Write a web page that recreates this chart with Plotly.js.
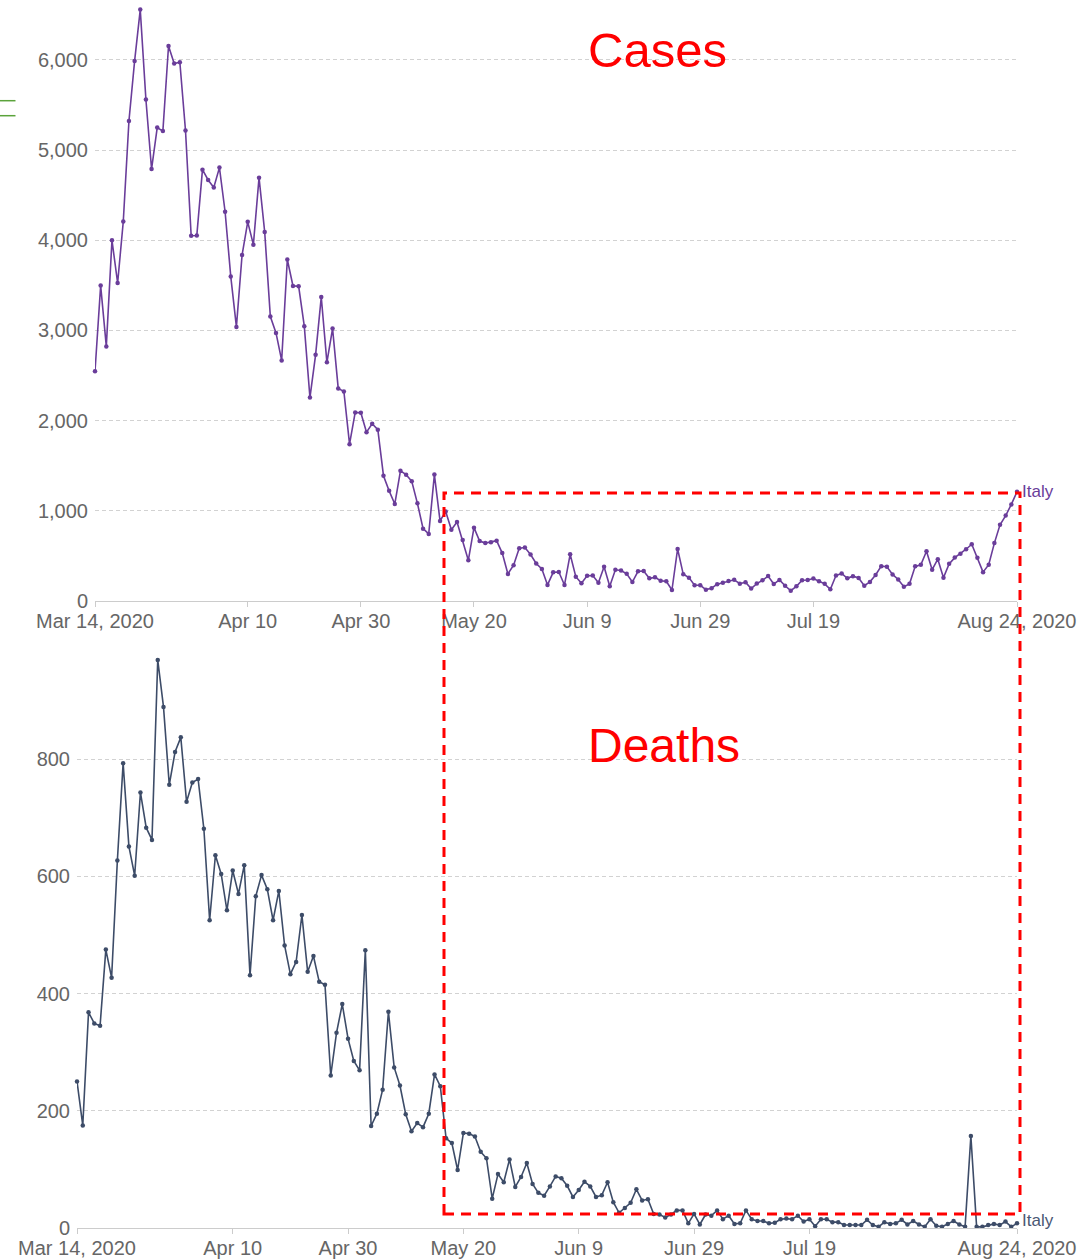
<!DOCTYPE html>
<html>
<head>
<meta charset="utf-8">
<script src="https://cdn.plot.ly/plotly-3.0.1.min.js"></script>
<style>
  html, body { margin: 0; padding: 0; background: #fff; }
  #chart { width: 1088px; height: 1260px; }
</style>
</head>
<body>
<div id="chart"></div>
<script>
// ---- Data (daily values, Italy, starting Mar 14, 2020) ----
const startDate = '2020-03-14';
const countryName = 'Italy';

const dailyCases = [
  2547,3497,2823,4000,3526,4207,5322,5986,6557,5560,
  4789,5249,5210,6153,5959,5974,5217,4050,4053,4782,
  4668,4585,4805,4316,3599,3039,3836,4204,3951,4694,
  4092,3153,2972,2667,3786,3493,3491,3047,2256,2729,
  3370,2646,3021,2357,2324,1739,2091,2086,1872,1965,
  1900,1389,1221,1075,1444,1401,1327,1083,802,744,
  1402,888,992,789,875,675,451,813,665,642,
  652,669,531,300,397,584,593,516,416,355,
  178,318,321,177,518,270,197,280,283,202,
  379,163,346,338,301,210,329,333,251,262,
  224,218,122,577,296,259,175,174,126,142,
  187,201,223,235,192,208,138,193,229,276,
  188,234,169,114,163,230,233,249,219,190,
  129,282,306,252,275,255,170,212,289,386,
  379,295,239,159,190,384,402,552,347,463,
  259,412,481,523,574,629,479,320,403,642,
  845,947,1071,1210
];

const dailyDeaths = [
  250,175,368,349,345,475,427,627,793,651,
  601,743,683,662,969,889,756,812,837,727,
  760,766,681,525,636,604,542,610,570,619,
  431,566,602,578,525,575,482,433,454,534,
  437,464,420,415,260,333,382,323,285,269,
  474,174,195,236,369,274,243,194,165,179,
  172,195,262,242,153,145,99,162,161,156,
  130,119,50,92,78,117,70,87,111,75,
  60,55,71,88,85,72,53,65,79,71,
  53,56,78,44,26,34,43,66,47,49,
  24,23,18,23,30,30,8,24,6,23,
  21,30,15,21,7,8,30,15,12,12,
  8,9,15,16,15,21,11,15,3,15,
  15,10,10,5,5,5,5,14,5,2,
  10,7,8,14,6,12,6,2,15,4,
  2,7,12,6,2,157,2,2,5,7,
  5,11,2,8
];

const tickDates = ['2020-03-14','2020-04-10','2020-04-30','2020-05-20','2020-06-09','2020-06-29','2020-07-19','2020-08-24'];
const tickLabels = ['Mar 14, 2020','Apr 10','Apr 30','May 20','Jun 9','Jun 29','Jul 19','Aug 24, 2020'];
const casesTicks = [0,1000,2000,3000,4000,5000,6000];
const deathsTicks = [0,200,400,600,800];

// consecutive daily dates
function dayList(start, n) {
  const p = start.split('-').map(Number);
  const base = Date.UTC(p[0], p[1]-1, p[2]);
  const out = [];
  for (let i = 0; i < n; i++) out.push(new Date(base + i*86400000).toISOString().slice(0,10));
  return out;
}
const dates = dayList(startDate, dailyCases.length);
const lastDate = dates[dates.length-1];

// ---- Styles ----
const FONT = 'Liberation Sans, Arial, Helvetica, sans-serif';
const casesColor = '#6a3d9a';
const deathsColor = '#3d4c68';
const tickColor = '#666666';
const W = 1088, H = 1260;
const px = v => v / W;
const py = v => 1 - v / H;

const traces = [
  { x: dates, y: dailyCases, type: 'scatter', mode: 'lines+markers', xaxis: 'x', yaxis: 'y',
    line: { color: casesColor, width: 1.6 }, marker: { color: casesColor, size: 4.5 },
    cliponaxis: false, hoverinfo: 'x+y' },
  { x: dates, y: dailyDeaths, type: 'scatter', mode: 'lines+markers', xaxis: 'x2', yaxis: 'y2',
    line: { color: deathsColor, width: 1.6 }, marker: { color: deathsColor, size: 4.5 },
    cliponaxis: false, hoverinfo: 'x+y' }
];

const xCommon = {
  type: 'date',
  range: [startDate, lastDate],
  tickmode: 'array', tickvals: tickDates, ticktext: tickLabels,
  ticks: 'outside', ticklen: 5, tickcolor: '#cccccc', tickwidth: 1,
  ticklabelstandoff: -3,
  showline: true, linecolor: '#cccccc', linewidth: 1,
  showgrid: false, zeroline: false,
  tickfont: { family: FONT, size: 20, color: tickColor },
  fixedrange: true
};
const yCommon = {
  showline: false, zeroline: false,
  showgrid: true, gridcolor: '#d2d2d2', griddash: '4px,3px', gridwidth: 1,
  ticks: '', ticklabelstandoff: 6,
  tickfont: { family: FONT, size: 20, color: tickColor },
  tickformat: ',d',
  fixedrange: true
};

const layout = {
  width: W, height: H,
  margin: { l: 0, r: 0, t: 0, b: 0 },
  paper_bgcolor: '#ffffff', plot_bgcolor: '#ffffff',
  showlegend: false,
  font: { family: FONT },
  xaxis: Object.assign({}, xCommon, { domain: [px(95), px(1017)], anchor: 'y' }),
  yaxis: Object.assign({}, yCommon, { domain: [py(601), py(9.6)], range: [0, 6557], tickmode: 'array', tickvals: casesTicks, anchor: 'x' }),
  xaxis2: Object.assign({}, xCommon, { domain: [px(77), px(1017)], anchor: 'y2' }),
  yaxis2: Object.assign({}, yCommon, { domain: [py(1228), py(660)], range: [0, 969], tickmode: 'array', tickvals: deathsTicks, anchor: 'x2' }),
  annotations: [
    { text: countryName, xref: 'x', yref: 'y', x: lastDate, y: dailyCases[dailyCases.length-1],
      xanchor: 'left', yanchor: 'middle', xshift: 3, showarrow: false,
      font: { family: FONT, size: 17, color: casesColor } },
    { text: countryName, xref: 'x2', yref: 'y2', x: lastDate, y: dailyDeaths[dailyDeaths.length-1],
      xanchor: 'left', yanchor: 'middle', xshift: 3, yshift: 3, showarrow: false,
      font: { family: FONT, size: 17, color: '#4a5874' } },
    { text: 'Cases', xref: 'paper', yref: 'paper', x: px(657), y: py(50),
      xanchor: 'center', yanchor: 'middle', showarrow: false,
      font: { family: FONT, size: 49, color: '#ff0000' } },
    { text: 'Deaths', xref: 'paper', yref: 'paper', x: px(664), y: py(745),
      xanchor: 'center', yanchor: 'middle', showarrow: false,
      font: { family: FONT, size: 48, color: '#ff0000' } }
  ],
  shapes: [
    { type: 'rect', xref: 'paper', yref: 'paper', x0: px(444), x1: px(1020), y0: py(1214), y1: py(493),
      line: { color: '#ff0000', width: 3, dash: '10px,7px' }, fillcolor: 'rgba(0,0,0,0)' },
    { type: 'line', xref: 'paper', yref: 'paper', x0: 0, x1: px(15.5), y0: py(100.7), y1: py(100.7),
      line: { color: '#5ba33b', width: 1.5 } },
    { type: 'line', xref: 'paper', yref: 'paper', x0: 0, x1: px(15.5), y0: py(115.7), y1: py(115.7),
      line: { color: '#5ba33b', width: 1.5 } }
  ]
};

Plotly.newPlot('chart', traces, layout, { displayModeBar: false, staticPlot: true });
</script>
</body>
</html>
